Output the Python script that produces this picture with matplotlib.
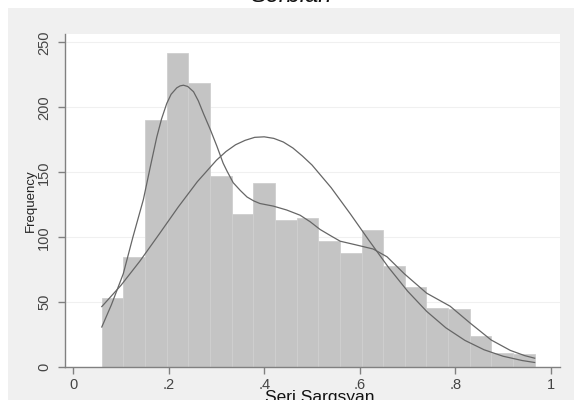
import numpy as np
import matplotlib
matplotlib.use("Agg")
import matplotlib.pyplot as plt
from matplotlib.patches import Rectangle

# histogram (20 bins between ~0.06 and ~0.966)
bin_lo, bin_hi = 0.060, 0.966
counts = [53, 85, 190, 242, 219, 147, 118, 142, 113, 115,
          97, 88, 106, 78, 62, 46, 45, 24, 11, 10]

# kernel density, scaled to frequency
kde_x = [0.060, 0.080, 0.105, 0.125, 0.147, 0.162, 0.175, 0.185, 0.196, 0.205,
         0.217, 0.224, 0.231, 0.240, 0.252, 0.262, 0.273, 0.287, 0.301, 0.314,
         0.322, 0.335, 0.350, 0.364, 0.378, 0.391, 0.419, 0.447, 0.475,
         0.496, 0.517, 0.540, 0.559, 0.594, 0.628, 0.657, 0.693, 0.740, 0.789,
         0.831, 0.875, 0.915, 0.945, 0.966]
kde_y = [31, 48, 72, 100, 129, 155, 177, 191, 203, 210,
         215, 216.5, 217, 216, 212, 205, 195, 183, 170, 157,
         151, 142, 136, 131, 128, 126, 124, 121, 117,
         112, 106, 101, 97, 94, 91, 85, 72, 57, 47,
         34, 21, 13, 9, 7]

# normal density, scaled to frequency
norm_x = [0.06, 0.10, 0.14, 0.18, 0.22, 0.26, 0.30, 0.32, 0.34, 0.36, 0.38, 0.40,
          0.42, 0.44, 0.46, 0.48, 0.50, 0.54, 0.58, 0.62, 0.66, 0.70, 0.74, 0.78,
          0.82, 0.86, 0.90, 0.94, 0.966]
norm_y = [46.7, 63.0, 81.8, 102.4, 123.3, 142.8, 159.3, 166.0, 171.2, 174.6, 176.9, 177.3,
          176.1, 173.3, 168.7, 162.5, 155.6, 138.2, 118.1, 97.2, 76.9, 58.6, 43.0, 30.4,
          20.7, 13.5, 8.5, 5.2, 3.7]

x_ticks = [0, 0.2, 0.4, 0.6, 0.8, 1.0]
x_ticklabels = ["0", ".2", ".4", ".6", ".8", "1"]
y_ticks = [0, 50, 100, 150, 200, 250]

plt.rcParams["font.family"] = ["Liberation Sans", "DejaVu Sans"]

fig = plt.figure(figsize=(5.74, 4.0), dpi=100)
fig.patch.set_facecolor("white")
# light grey outer region (Stata graph region)
fig.patches.append(Rectangle((8 / 574, 0), 1, 1 - 8 / 400, transform=fig.transFigure,
                             facecolor="#f0f0f0", edgecolor="none", zorder=-5))

ax = fig.add_axes([65 / 574, 1 - 367.3 / 400, (560 - 65) / 574, (367.3 - 34) / 400])
ax.set_zorder(1)
ax.set_facecolor("white")

edges = np.linspace(bin_lo, bin_hi, len(counts) + 1)
ax.bar(edges[:-1], counts, width=np.diff(edges), align="edge",
       color="#c4c4c4", edgecolor="#cfcfcf", linewidth=0.6, zorder=2)

ax.plot(kde_x, kde_y, color="#666666", lw=0.9, zorder=3)
ax.plot(norm_x, norm_y, color="#666666", lw=0.9, zorder=3)

ax.set_xlim(-0.017, 1.019)
ax.set_ylim(0, 256.4)
ax.set_xticks(x_ticks)
ax.set_xticklabels(x_ticklabels)
ax.set_yticks(y_ticks)
ax.set_yticklabels([str(v) for v in y_ticks], rotation=90, va="center")

ax.yaxis.grid(True, color="#f0f0f0", lw=0.8, zorder=0)
ax.set_axisbelow(True)

for s in ["top", "right"]:
    ax.spines[s].set_visible(False)
for s in ["left", "bottom"]:
    ax.spines[s].set_color("#808080")
    ax.spines[s].set_linewidth(1.0)

ax.tick_params(axis="both", colors="#808080", length=5, width=1.0,
               labelcolor="#444444", labelsize=10.5)
ax.tick_params(axis="y", pad=5)
ax.tick_params(axis="x", pad=3)

ax.set_ylabel("Frequency", fontsize=9.5, color="#222222", labelpad=0)
ax.set_xlabel("Seri Sargsyan", fontsize=12.5, color="#111111", labelpad=0)
ax.xaxis.set_label_coords(0.515, -0.069, transform=ax.transAxes)
ax.xaxis.label.set_va("top")

fig.text(0.507, 0.994, "Serbian", fontsize=17, style="italic", ha="center",
         va="baseline", color="#111111")

fig.savefig("out.png", dpi=100)
